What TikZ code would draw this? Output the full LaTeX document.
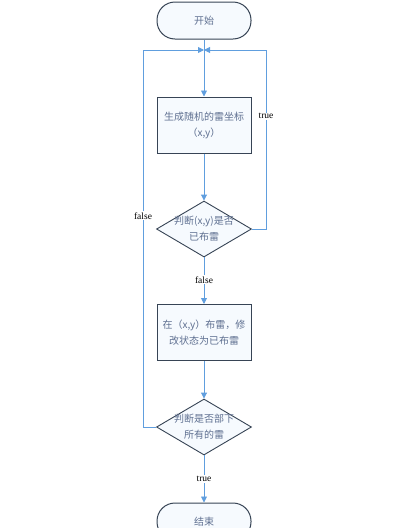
\documentclass[tikz,border=0pt]{standalone}
\usepackage{fontspec}
\setmainfont{Liberation Serif}
\newfontfamily\cjk{Noto Sans CJK SC}
\usetikzlibrary{shapes.geometric,arrows.meta}
\definecolor{flowblue}{RGB}{96,158,222}
\definecolor{edgedark}{RGB}{55,68,85}
\definecolor{txtblue}{RGB}{95,112,145}
\definecolor{boxfill}{RGB}{246,250,254}
\tikzset{
  box/.style={draw=edgedark,line width=1pt,fill=boxfill,minimum width=94pt,minimum height=56pt,inner sep=0pt,align=center,text=txtblue,font=\cjk\fontsize{10}{16}\selectfont},
  term/.style={box,rounded corners=18pt,minimum height=37pt},
  dec/.style={draw=edgedark,line width=0.9pt,fill=boxfill,diamond,minimum width=95pt,minimum height=56pt,inner sep=0pt},
  dectext/.style={align=center,text=txtblue,font=\cjk\fontsize{10}{16}\selectfont},
  flow/.style={draw=flowblue,line width=0.9pt},
  arr/.style={flow,-{Triangle[width=6pt,length=6pt]}},
  lbl/.style={fill=white,inner sep=1pt,font=\fontsize{9.5}{10}\selectfont,text=black}
}
\begin{document}
\begin{tikzpicture}[x=1pt,y=-1pt]
\useasboundingbox (0,0) rectangle (407,528);
\node[term] (start) at (204,20.5) {开始};
\node[box] (gen) at (204,125) {生成随机的雷坐标\\（x,y）};
\node[dec] (chk) at (204,229) {};
\node[dectext] (chkt) at (204,229) {判断(x,y)是否\\已布雷};
\node[box] (place) at (204,332.5) {在（x,y）布雷，修\\改状态为已布雷};
\node[dec] (done) at (204,427) {};
\node[dectext] (donet) at (204,427) {判断是否部下\\所有的雷};
\node[term] (end) at (204,521.5) {结束};
\coordinate (j) at (204,50);
\coordinate (rt) at (266,50);
\coordinate (lt) at (143,50);
\draw[arr] (start.south) -- (gen.north);
\draw[arr] (gen.south) -- (chk.north);
\draw[arr] (chk.south) -- node[lbl,pos=0.48]{false} (place.north);
\draw[arr] (place.south) -- (done.north);
\draw[arr] (done.south) -- node[lbl,pos=0.5]{true} (end.north);
\draw[arr] (chk.east) -| node[lbl,pos=0.815]{true} (rt) -- (j);
\draw[arr] (done.west) -| node[lbl,pos=0.78]{false} (lt) -- (j);
\end{tikzpicture}
\end{document}
